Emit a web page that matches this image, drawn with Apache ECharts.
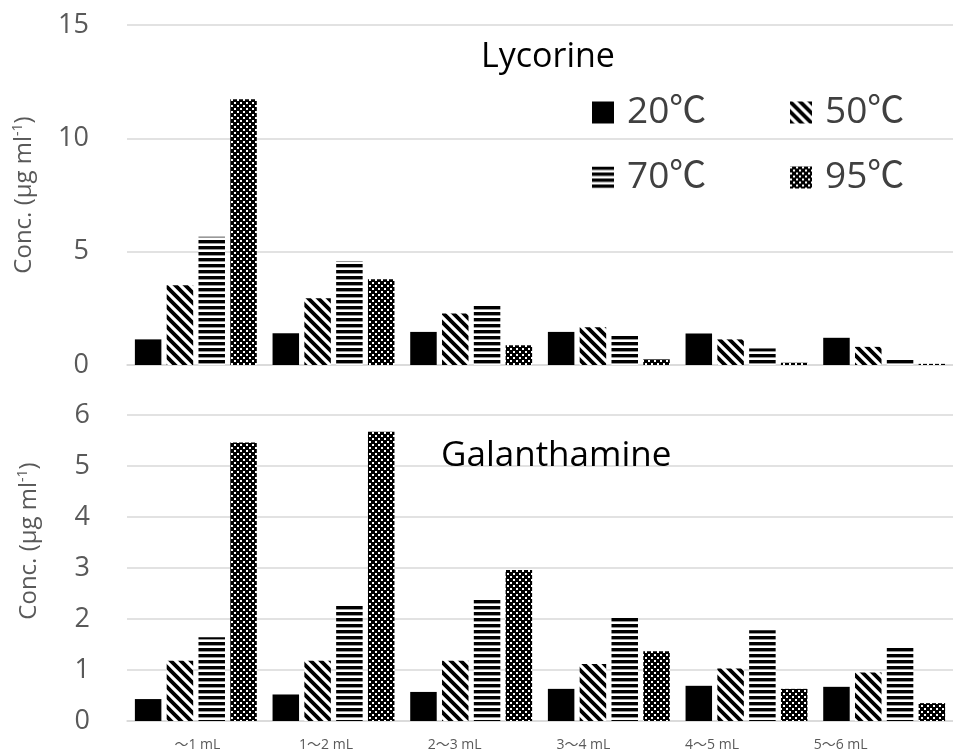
<!DOCTYPE html>
<html>
<head>
<meta charset="utf-8">
<script src="https://cdn.jsdelivr.net/npm/echarts@6/dist/echarts.min.js"></script>
<style>html,body{margin:0;padding:0;background:#fff;}#chart{width:953px;height:752px;}</style>
</head>
<body>
<div id="chart"></div>
<script>
// ---- data ----
var categories = ['～1 mL', '1～2 mL', '2～3 mL', '3～4 mL', '4～5 mL', '5～6 mL'];
var seriesNames = ['20℃', '50℃', '70℃', '95℃'];
var lyc20 = [1.13, 1.40, 1.46, 1.46, 1.39, 1.20];
var lyc50 = [3.52, 2.94, 2.27, 1.66, 1.13, 0.80];
var lyc70 = [5.66, 4.59, 2.68, 1.35, 0.73, 0.26];
var lyc95 = [11.72, 3.78, 0.87, 0.25, 0.10, 0.05];
var gal20 = [0.43, 0.52, 0.57, 0.63, 0.69, 0.67];
var gal50 = [1.18, 1.18, 1.18, 1.12, 1.03, 0.95];
var gal70 = [1.64, 2.26, 2.39, 2.03, 1.78, 1.43];
var gal95 = [5.46, 5.67, 2.96, 1.37, 0.63, 0.35];
var lycTicks = {min: 0, max: 15, interval: 5};
var galTicks = {min: 0, max: 6, interval: 1};

// ---- patterns ----
function makeCanvas(w, h, draw) {
  var c = document.createElement('canvas');
  c.width = w; c.height = h;
  var ctx = c.getContext('2d');
  ctx.fillStyle = '#fff'; ctx.fillRect(0, 0, w, h);
  ctx.fillStyle = '#000'; ctx.strokeStyle = '#000';
  draw(ctx, w, h);
  return c;
}
var diagCanvas = makeCanvas(10, 10, function (ctx, w, h) {
  ctx.lineWidth = 3.8;
  ctx.beginPath();
  ctx.moveTo(-3, -3); ctx.lineTo(w + 3, h + 3);
  ctx.moveTo(-3 - w, -3); ctx.lineTo(3, h + 3);
  ctx.moveTo(w - 3, -3); ctx.lineTo(2 * w + 3, h + 3);
  ctx.stroke();
});
var horizCanvas = makeCanvas(6, 6, function (ctx, w, h) {
  ctx.fillRect(0, 0, w, 3);
  ctx.fillStyle = 'rgba(0,0,0,0.4)';
  ctx.fillRect(0, 3, w, 1);
});
var checkCanvas = makeCanvas(6, 6, function (ctx) {
  ctx.fillRect(0, 0, 6, 6);
  ctx.fillStyle = '#fff';
  ctx.fillRect(0, 0, 2, 2);
  ctx.fillRect(3, 3, 2, 2);
});
var fills = [
  '#000000',
  {image: diagCanvas, repeat: 'repeat'},
  {image: horizCanvas, repeat: 'repeat'},
  {image: checkCanvas, repeat: 'repeat'}
];

var FONT = "'Open Sans', 'Noto Sans CJK JP', sans-serif";
var GRAY = '#595959';
var GRID = '#d9d9d9';

var chart = echarts.init(document.getElementById('chart'), null, {renderer: 'canvas'});

function barSeries(name, idx, data, axisIdx) {
  return {
    name: name,
    type: 'bar',
    xAxisIndex: axisIdx,
    yAxisIndex: axisIdx,
    data: data,
    barWidth: 26.5,
    barGap: '20%',
    itemStyle: {color: fills[idx]},
    emphasis: {disabled: true},
    animation: false
  };
}

var yName = 'Conc. (µg ml{sup|-1})';
var nameRich = {sup: {fontSize: 14, fontFamily: FONT, color: GRAY, verticalAlign: 'top', padding: [0, 0, 12, 0]}};

function legendAt(name, left, top) {
  return {
    data: [name],
    left: left, top: top,
    orient: 'horizontal',
    padding: 0,
    itemWidth: 22, itemHeight: 22,
    icon: 'rect',
    selectedMode: false,
    textStyle: {fontSize: 37, fontFamily: FONT, color: '#404040', padding: [0, 0, 0, 8]}
  };
}

var option = {
  backgroundColor: '#ffffff',
  animation: false,
  title: [
    {text: 'Lycorine', left: 481, top: 40, padding: 0,
     textStyle: {fontSize: 34, fontWeight: 'normal', fontFamily: FONT, color: '#000'}},
    {text: 'Galanthamine', left: 441, top: 439, padding: 0,
     textStyle: {fontSize: 35, fontWeight: 'normal', fontFamily: FONT, color: '#000'}}
  ],
  legend: [
    legendAt(seriesNames[0], 592, 94),
    legendAt(seriesNames[1], 790, 94),
    legendAt(seriesNames[2], 592, 159),
    legendAt(seriesNames[3], 790, 159)
  ],
  grid: [
    {left: 127, top: 25, width: 837, height: 340},
    {left: 127, top: 415, width: 837, height: 306},
    {left: 133, top: 415, width: 772, height: 306}
  ],
  xAxis: [
    {type: 'category', gridIndex: 0, data: categories,
     axisLine: {show: true, lineStyle: {color: GRID, width: 1.5}}, axisTick: {show: false}, axisLabel: {show: false}},
    {type: 'category', gridIndex: 1, data: categories,
     axisLine: {show: true, lineStyle: {color: GRID, width: 1.5}}, axisTick: {show: false}, axisLabel: {show: false}},
    {type: 'category', gridIndex: 2, data: categories,
     axisLine: {show: false}, axisTick: {show: false},
     axisLabel: {show: true, margin: 17, fontSize: 14, fontFamily: FONT, color: GRAY}}
  ],
  yAxis: [
    {type: 'value', gridIndex: 0, min: lycTicks.min, max: lycTicks.max, interval: lycTicks.interval,
     axisLine: {show: false}, axisTick: {show: false},
     axisLabel: {margin: 38, fontSize: 27, fontFamily: FONT, color: GRAY},
     splitLine: {lineStyle: {color: GRID, width: 1.5}},
     name: yName, nameLocation: 'middle', nameGap: 90,
     nameTextStyle: {fontSize: 24, fontFamily: FONT, color: GRAY, rich: nameRich}},
    {type: 'value', gridIndex: 1, min: galTicks.min, max: galTicks.max, interval: galTicks.interval,
     axisLine: {show: false}, axisTick: {show: false},
     axisLabel: {margin: 37, fontSize: 27, fontFamily: FONT, color: GRAY},
     splitLine: {lineStyle: {color: GRID, width: 1.5}},
     name: yName, nameLocation: 'middle', nameGap: 85,
     nameTextStyle: {fontSize: 24, fontFamily: FONT, color: GRAY, rich: nameRich, padding: [0, 0, 0, 54]}},
    {type: 'value', gridIndex: 2, show: false}
  ],
  series: [
    barSeries(seriesNames[0], 0, lyc20, 0),
    barSeries(seriesNames[1], 1, lyc50, 0),
    barSeries(seriesNames[2], 2, lyc70, 0),
    barSeries(seriesNames[3], 3, lyc95, 0),
    barSeries(seriesNames[0], 0, gal20, 1),
    barSeries(seriesNames[1], 1, gal50, 1),
    barSeries(seriesNames[2], 2, gal70, 1),
    barSeries(seriesNames[3], 3, gal95, 1)
  ]
};
chart.setOption(option);
</script>
</body>
</html>
